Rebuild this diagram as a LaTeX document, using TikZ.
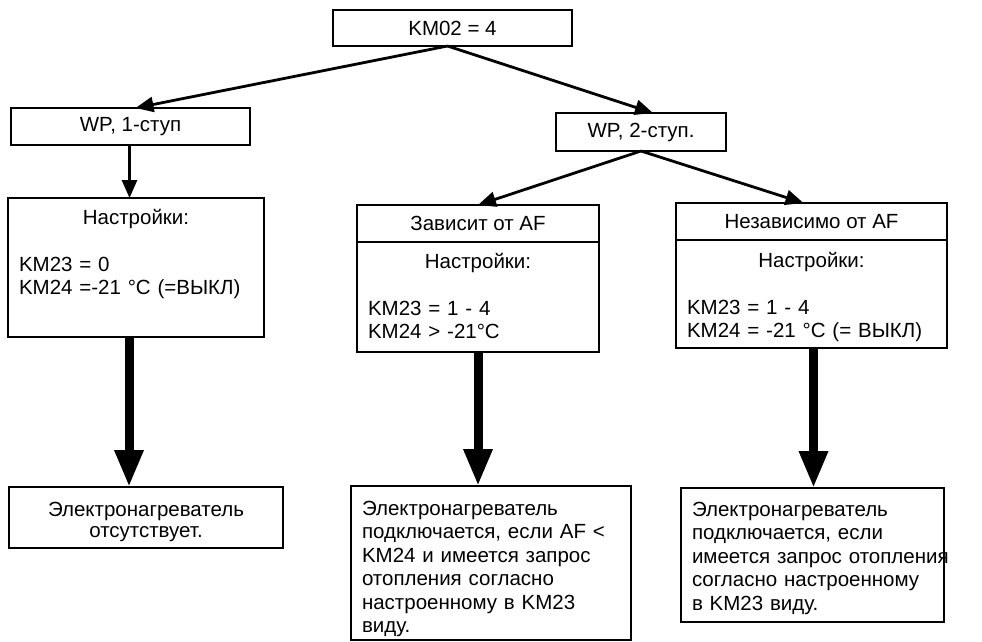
\documentclass[tikz,border=0pt]{standalone}
\usepackage{fontspec}
\setmainfont{Liberation Sans}
\usetikzlibrary{positioning,arrows.meta}
\tikzstyle{recthead} = [rectangle, draw=black, line width=1.2pt, outer sep=0pt, inner sep=0pt, text centered]
\tikzstyle{rectbody} = [rectangle, draw=black, line width=1.2pt, outer sep=0pt, inner xsep=11pt, inner ysep=0pt, align=left, anchor=north]
\tikzstyle{rectresult} = [rectbody, align=center]
\tikzstyle{arrow} = [line width=2.8pt, -{Triangle[length=18pt,width=15pt]}]
\tikzstyle{thickarrow} = [line width=9pt, -{Triangle[length=37pt,width=27pt]}]

\begin{document}
\begin{tikzpicture}[x=1pt, y=-1pt, font=\fontsize{20.5pt}{23.5pt}\selectfont]
    \useasboundingbox (0,0) rectangle (982,641);
    	% Cuadros
    	\node (km02) [recthead, minimum width=239pt, minimum height=36pt] at (452.5,28) {KM02 = 4};
    	\node (wp1) [recthead, minimum width=239pt, minimum height=37pt] at (130.5,126.5) {WP, 1-ступ};
    	\node (wp2) [recthead, minimum width=170pt, minimum height=38pt] at (641,132) {WP, 2-ступ.};
    	\node (set1) [rectbody, text width=234pt, text height=26pt, text depth=113pt] at (136,198)
    	    {\makebox[\linewidth]{Настройки:}\\[\baselineskip]KM23 = 0\\KM24 =-21 °C (=ВЫКЛ)};
    	\node (dep) [recthead, minimum width=242pt, minimum height=37pt] at (478,223.5) {Зависит от AF};
    	\node (depset) [rectbody, below=0pt of dep, text width=220pt, text height=26pt, text depth=84pt]
    	    {\makebox[\linewidth]{Настройки:}\\[\baselineskip]KM23 = 1 - 4\\KM24 > -21°C};
    	\node (indep) [recthead, minimum width=271pt, minimum height=37pt] at (811.5,221.5) {Независимо от AF};
    	\node (indepset) [rectbody, below=0pt of indep, text width=249pt, text height=27pt, text depth=81pt]
    	    {\makebox[\linewidth]{Настройки:}\\[\baselineskip]KM23 = 1 - 4\\KM24 = -21 °C (= ВЫКЛ)};
    	\node (res1) [rectresult, text width=252pt, text height=29pt, text depth=32pt] at (146,487)
    	    {Электронагреватель\\[-2pt]отсутствует.};
    	\node (res2) [rectbody, text width=258pt, text height=29pt, text depth=125pt] at (491,486)
    	    {Электронагреватель\\подключается, если AF <\\KM24 и имеется запрос\\отопления согласно\\настроенному в KM23\\виду.};
    	\node (res3) [rectbody, text width=241pt, text height=28pt, text depth=106pt] at (812.5,488)
    	    {Электронагреватель\\подключается, если\\\mbox{имеется запрос отопления}\\согласно настроенному\\в KM23 виду.};
    	% Flechas
        \draw[arrow] ([xshift=-5pt]km02.south) -- ([xshift=5pt]wp1.north);
        \draw[arrow] ([xshift=-5pt]km02.south) -- ([xshift=12pt]wp2.north);
        \draw[arrow] ([xshift=-1pt]wp1.south) -- ([xshift=-1pt]wp1.south |- set1.north);
        \draw[arrow] (wp2.south) -- (dep.north);
        \draw[arrow] (wp2.south) -- ([xshift=-8pt]indep.north);
        \draw[thickarrow] ([xshift=-7pt]set1.south) -- ([xshift=-7pt]set1.south |- res1.north);
        \draw[thickarrow] (depset.south) -- (depset.south |- res2.north);
        \draw[thickarrow] ([xshift=2pt]indepset.south) -- ([xshift=2pt]indepset.south |- res3.north);
\end{tikzpicture}
\end{document}
